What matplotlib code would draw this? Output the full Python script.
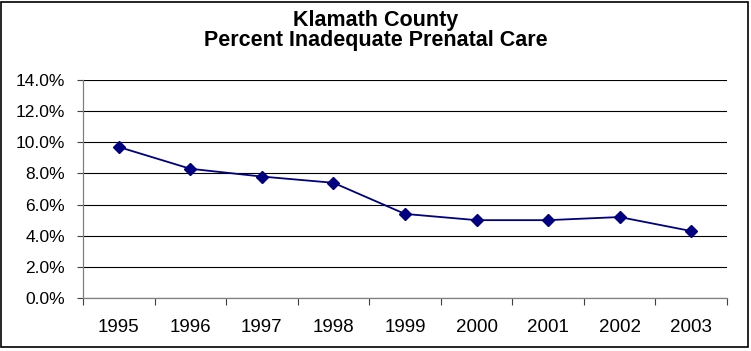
import matplotlib
matplotlib.use('Agg')
import matplotlib.pyplot as plt
import matplotlib.ticker as ticker
from matplotlib.patches import Rectangle

years = ['1995', '1996', '1997', '1998', '1999', '2000', '2001', '2002', '2003']
pct_inadequate = [9.7, 8.3, 7.8, 7.4, 5.4, 5.0, 5.0, 5.2, 4.3]

plt.rcParams['font.family'] = ['Liberation Sans', 'DejaVu Sans']

fig = plt.figure(figsize=(7.51, 3.51), dpi=100)
ax = fig.add_axes([0.1105, 0.151, 0.8575, 0.621])

x = list(range(len(years)))
ax.plot(x, pct_inadequate, color='#000080', lw=1.3, marker='D', markersize=6.5,
        markerfacecolor='#000080', markeredgecolor='#000080', zorder=3)

ax.set_xlim(-0.5, len(years) - 0.5)
ax.set_ylim(0, 14)
ax.yaxis.set_major_locator(ticker.MultipleLocator(2))
ax.yaxis.set_major_formatter(ticker.FuncFormatter(lambda v, p: '%.1f%%' % v))
ax.yaxis.grid(True, color='black', lw=0.8)
ax.set_axisbelow(True)

# category labels centred, tick marks on the category boundaries
ax.set_xticks(x)
ax.set_xticklabels(years)
ax.set_xticks([i - 0.5 for i in range(len(years) + 1)], minor=True)
ax.tick_params(axis='x', which='major', length=0, pad=15, labelsize=13.5)
ax.tick_params(axis='x', which='minor', length=5, width=0.8, color='#404040', direction='out')
ax.tick_params(axis='y', length=4, width=0.8, color='#404040', labelsize=12.5, pad=9)

for side in ['top', 'right']:
    ax.spines[side].set_visible(False)
for side in ['left', 'bottom']:
    ax.spines[side].set_color('#808080')
    ax.spines[side].set_linewidth(0.9)

fig.text(0.5, 0.942, 'Klamath County', ha='center', va='center', fontsize=15.5, fontweight='bold')
fig.text(0.5, 0.886, 'Percent Inadequate Prenatal Care', ha='center', va='center', fontsize=15.5, fontweight='bold')

# outer frame around the chart
fig.patches.append(Rectangle((0.0015, 0.012), 0.9945, 0.982, transform=fig.transFigure,
                             fill=False, edgecolor='black', lw=1.2))

plt.savefig('out.png', dpi=100)
